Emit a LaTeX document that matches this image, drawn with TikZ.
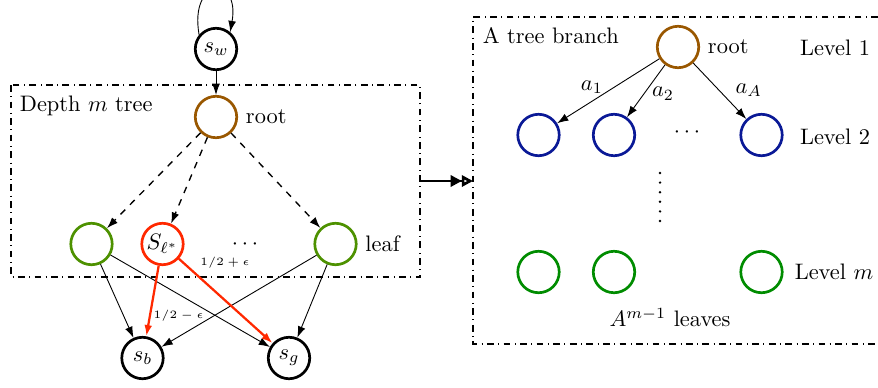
\documentclass[tikz,border=0pt]{standalone}
\usetikzlibrary{arrows.meta}
\definecolor{rootbrown}{RGB}{153,87,0}
\definecolor{leafolive}{RGB}{77,145,0}
\definecolor{bestred}{RGB}{255,40,0}
\definecolor{lvlblue}{RGB}{10,25,150}
\definecolor{lvlgreen}{RGB}{0,140,0}
\begin{document}
\begin{tikzpicture}[x=0.4464pt,y=-0.4464pt,>={Latex[length=5pt,width=3.5pt]},
  st/.style={draw,circle,minimum size=18.5pt,inner sep=0pt,line width=1.2pt},
  lbl/.style={font=\fontsize{5.2}{6}\selectfont,inner sep=1pt}]
\useasboundingbox (0,0) rectangle (878,387);
\draw[dashdotted,semithick] (11,85) rectangle (420,277);
\draw[dashdotted,semithick] (878,17) -- (473,17) -- (473,344) -- (878,344);
\node[st] (sw) at (216,49) {$s_w$};
\node[st,draw=rootbrown] (root) at (216,117) {};
\node[anchor=west] (rootlbl) at (root.east) {root};
\node[anchor=west] (depthlbl) at (12,106) {Depth $m$ tree};
\node[st,draw=leafolive] (lf1) at (91.5,244) {};
\node[st,draw=bestred] (lbest) at (162.5,244) {$S_{\ell^*}$};
\node (ldots) at (245,245) {$\cdots$};
\node[st,draw=leafolive] (lf3) at (335.5,244) {};
\node[anchor=west] (leaflbl) at (lf3.east) {leaf};
\node[st] (sb) at (142.5,358) {$s_b$};
\node[st] (sg) at (289,358) {$s_g$};
\draw[->] (sw.140) to[out=100,in=80,looseness=4.8] (sw.50);
\draw[->] (sw) -- (root);
\foreach \t in {lf1,lbest,lf3} \draw[->,dashed,semithick] (root) -- (\t);
\foreach \s in {lf1,lf3} {\draw[->] (\s) -- (sb); \draw[->] (\s) -- (sg);}
\draw[->,bestred,line width=1pt] (lbest) -- (sb);
\draw[->,bestred,line width=1pt] (lbest) -- (sg);
\node[lbl] (plbl) at (225,263) {$1/2+\epsilon$};
\node[lbl,anchor=west] (mlbl) at (151,316) {$1/2-\epsilon$};
\coordinate (arrfrom) at (420,181);
\coordinate (arrto) at (473,181);
\draw[line width=1.2pt,-{Triangle[open,length=5pt,width=5pt]Triangle[open,length=5pt,width=5pt]}] (arrfrom) -- (arrto);
% the branch
\node[anchor=west] (branchlbl) at (475,36) {A tree branch};
\node[st,draw=rootbrown] (rroot) at (678,47) {};
\node[anchor=west] (rrootlbl) at (rroot.east) {root};
\node (lv1) at (835,48) {Level 1};
\node[st,draw=lvlblue] (ca) at (538.5,135) {};
\node[st,draw=lvlblue] (cb) at (614,135) {};
\node (rdots) at (687,133) {$\cdots$};
\node[st,draw=lvlblue] (cc) at (761.5,135) {};
\node (lv2) at (835,137) {Level 2};
\draw[->] (rroot) -- node[pos=0.66,above] {$a_1$} (ca);
\draw[->] (rroot) -- node[pos=0.55,right] {$a_2$} (cb);
\draw[->] (rroot) -- node[pos=0.48,right=4pt] {$a_A$} (cc);
\foreach \y in {173,182.6,...,222} \fill (660,\y) circle (0.6pt);
\node[st,draw=lvlgreen] (ma) at (538.5,272) {};
\node[st,draw=lvlgreen] (mb) at (614,272) {};
\node[st,draw=lvlgreen] (mc) at (761.5,272) {};
\node (lvm) at (834,272) {Level $m$};
\node (leaveslbl) at (670,318) {$A^{m-1}$ leaves};
\end{tikzpicture}
\end{document}
